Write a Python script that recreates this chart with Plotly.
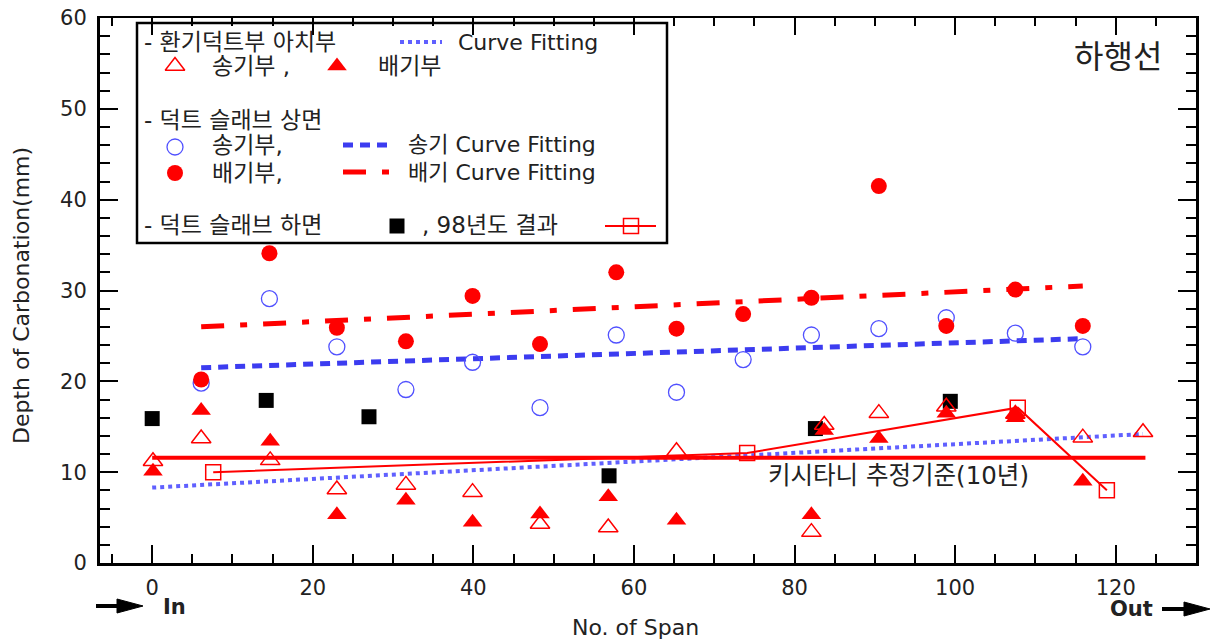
import plotly.graph_objects as go

# ---------------- data ----------------
top_span = [6.1, 14.6, 23.0, 31.6, 39.9, 48.3, 57.8, 65.3, 73.6, 82.1, 90.5, 98.9, 107.5, 115.9]
top_supply = [19.8, 29.1, 23.8, 19.1, 22.1, 17.1, 25.1, 18.8, 22.4, 25.1, 25.8, 27.0, 25.3, 23.8]
top_exhaust = [20.2, 34.1, 25.9, 24.4, 29.4, 24.1, 32.0, 25.8, 27.4, 29.2, 41.5, 26.1, 30.1, 26.1]

arch_sup_span = [0.1, 6.1, 14.7, 23.0, 31.6, 39.9, 48.3, 56.8, 65.3, 82.1, 83.7, 90.5, 98.9, 107.5, 115.9, 123.4]
arch_supply = [11.2, 13.7, 11.3, 8.1, 8.6, 7.8, 4.3, 3.9, 12.3, 3.4, 15.2, 16.5, 17.2, 16.4, 13.8, 14.4]
arch_exh_span = [0.1, 6.1, 14.7, 23.0, 31.6, 39.9, 48.3, 56.8, 65.3, 82.1, 83.7, 90.5, 98.9, 107.5, 107.5, 115.9]
arch_exhaust = [10.1, 16.8, 13.4, 5.3, 6.9, 4.5, 5.4, 7.3, 4.7, 5.3, 14.6, 13.7, 16.5, 16.4, 16.0, 9.0]

bottom_span = [0.0, 14.2, 27.0, 56.9, 82.6, 99.4]
bottom_depth = [15.9, 17.9, 16.1, 9.6, 14.8, 17.8]

y1998_span = [7.6, 74.1, 107.8, 118.9]
y1998_depth = [10.0, 12.1, 17.1, 8.0]

kitazaki_span = [0.0, 123.7]
kitazaki_depth = [11.6, 11.6]

arch_fit_span = [0.0, 123.4]
arch_fit_depth = [8.3, 14.2]
sup_fit_span = [6.1, 115.9]
sup_fit_depth = [21.5, 24.7]
exh_fit_span = [6.1, 115.9]
exh_fit_depth = [26.0, 30.5]

x_ticks = [0, 20, 40, 60, 80, 100, 120]
y_ticks = [0, 10, 20, 30, 40, 50, 60]

# ---------------- style ----------------
RED = "#ff0000"
BLUE_C = "#5050ff"
BLUE_D = "#3c3cf0"
BLUE_DOT = "#6060ff"
TXT = "#222222"
FONT = "DejaVu Sans, Noto Sans CJK KR"
TRI = 17

# plot area in pixels
L, R, T, B = 100, 1196, 18, 563
W, H = 1210, 644


def px(x, y):
    return (x - L) / (R - L), (B - y) / (B - T)


fig = go.Figure()

# curve fittings
fig.add_trace(go.Scatter(x=arch_fit_span, y=arch_fit_depth, mode="lines",
                         line=dict(color=BLUE_DOT, width=4, dash="4px,4px")))
fig.add_trace(go.Scatter(x=sup_fit_span, y=sup_fit_depth, mode="lines",
                         line=dict(color=BLUE_D, width=5, dash="10px,7px")))
fig.add_trace(go.Scatter(x=exh_fit_span, y=exh_fit_depth, mode="lines",
                         line=dict(color=RED, width=5, dash="23px,16px,7px,16px")))
# Kitazaki criterion
fig.add_trace(go.Scatter(x=kitazaki_span, y=kitazaki_depth, mode="lines",
                         line=dict(color=RED, width=4)))
# 1998 results
fig.add_trace(go.Scatter(x=y1998_span, y=y1998_depth, mode="lines+markers",
                         line=dict(color=RED, width=2),
                         marker=dict(symbol="square-open", size=15, color=RED, line=dict(width=1.5))))
# slab bottom
fig.add_trace(go.Scatter(x=bottom_span, y=bottom_depth, mode="markers",
                         marker=dict(symbol="square", size=15, color="black")))
# slab top
fig.add_trace(go.Scatter(x=top_span, y=top_supply, mode="markers",
                         marker=dict(symbol="circle-open", size=16, color=BLUE_C, line=dict(width=1.3))))
fig.add_trace(go.Scatter(x=top_span, y=top_exhaust, mode="markers",
                         marker=dict(symbol="circle", size=16, color=RED)))
# arch
fig.add_trace(go.Scatter(x=arch_sup_span, y=arch_supply, mode="markers",
                         marker=dict(symbol="triangle-up-open", size=TRI, color=RED, line=dict(width=1.5))))
fig.add_trace(go.Scatter(x=arch_exh_span, y=arch_exhaust, mode="markers",
                         marker=dict(symbol="triangle-up", size=TRI, color=RED)))

# dummy trace for top axis
fig.add_trace(go.Scatter(x=[None], y=[None], xaxis="x3", yaxis="y", mode="markers"))

# ---------------- legend (pixel coordinate overlay axes) ----------------
leg = dict(xaxis="x2", yaxis="y2", hoverinfo="skip")
fig.add_trace(go.Scatter(x=[400, 442], y=[42, 42], mode="lines",
                         line=dict(color=BLUE_DOT, width=4, dash="4px,4px"), **leg))
fig.add_trace(go.Scatter(x=[343, 392], y=[145, 145], mode="lines",
                         line=dict(color=BLUE_D, width=5, dash="10px,7px"), **leg))
fig.add_trace(go.Scatter(x=[343, 392], y=[172, 172], mode="lines",
                         line=dict(color=RED, width=5, dash="23px,16px,7px,16px"), **leg))
fig.add_trace(go.Scatter(x=[605, 656], y=[226, 226], mode="lines",
                         line=dict(color=RED, width=2), **leg))
fig.add_trace(go.Scatter(x=[631], y=[226], mode="markers",
                         marker=dict(symbol="square-open", size=15, color=RED, line=dict(width=1.5)), **leg))
fig.add_trace(go.Scatter(x=[175], y=[66], mode="markers",
                         marker=dict(symbol="triangle-up-open", size=TRI, color=RED, line=dict(width=1.5)), **leg))
fig.add_trace(go.Scatter(x=[337], y=[66], mode="markers",
                         marker=dict(symbol="triangle-up", size=TRI, color=RED), **leg))
fig.add_trace(go.Scatter(x=[175], y=[147], mode="markers",
                         marker=dict(symbol="circle-open", size=16, color=BLUE_C, line=dict(width=1.3)), **leg))
fig.add_trace(go.Scatter(x=[175], y=[173], mode="markers",
                         marker=dict(symbol="circle", size=16, color=RED), **leg))
fig.add_trace(go.Scatter(x=[397], y=[226], mode="markers",
                         marker=dict(symbol="square", size=15, color="black"), **leg))

annotations = []


def text(x, y, s, size=22, anchor="left", bold=False, angle=0):
    fx, fy = px(x, y)
    annotations.append(dict(x=fx, y=fy, xref="paper", yref="paper", text=("<b>%s</b>" % s) if bold else s,
                            showarrow=False, xanchor=anchor, yanchor="middle", textangle=angle,
                            font=dict(family=FONT, size=size, color=TXT)))


KS = 23
text(142, 42, "- 환기덕트부 아치부", KS)
text(456, 42, "Curve Fitting")
text(210, 66, "송기부 ,", KS)
text(376, 66, "배기부", KS)
text(142, 120, "- 덕트 슬래브 상면", KS)
text(210, 145, "송기부,", KS)
text(406, 145, "송기 Curve Fitting")
text(210, 173, "배기부,", KS)
text(406, 173, "배기 Curve Fitting")
text(142, 225, "- 덕트 슬래브 하면", KS)
text(420, 225, ", 98년도 결과", KS)
text(1164, 57, "하행선", size=32, anchor="right")
text(766, 476, "키시타니 추정기준(10년)", size=24.5)
text(635, 627, "No. of Span", size=22, anchor="center")
text(22, 296, "Depth of Carbonation(mm)", size=22, anchor="center", angle=-90)
text(161, 607, "In", size=21, bold=True)
text(1155, 609, "Out", size=21, anchor="right", bold=True)

shapes = []
# legend box
x0, y0 = px(137, 243)
x1, y1 = px(667, 23)
shapes.append(dict(type="rect", xref="paper", yref="paper", x0=x0, y0=y0, x1=x1, y1=y1,
                   line=dict(color="black", width=2.5), fillcolor="rgba(255,255,255,0)", layer="below"))


def arrow(xa, xb, y):
    a, yy = px(xa, y)
    m, _ = px(xb - 26, y)
    b, _ = px(xb, y)
    _, yt = px(0, y - 7)
    _, yb = px(0, y + 7)
    shapes.append(dict(type="line", xref="paper", yref="paper", x0=a, x1=m, y0=yy, y1=yy,
                       line=dict(color="black", width=4)))
    shapes.append(dict(type="path", xref="paper", yref="paper",
                       path="M %f %f L %f %f L %f %f Z" % (m, yt, b, yy, m, yb),
                       fillcolor="black", line=dict(color="black", width=1)))


arrow(96, 143, 606)
arrow(1162, 1210, 609)

tickfont = dict(family=FONT, size=21, color=TXT)
fig.update_layout(
    width=W, height=H,
    margin=dict(l=L, r=W - R, t=T, b=H - B, autoexpand=False),
    paper_bgcolor="white", plot_bgcolor="white",
    showlegend=False,
    xaxis=dict(range=[-6.5, 130], tickvals=x_ticks, showgrid=False, zeroline=False,
               showline=True, linewidth=3, linecolor="black", mirror=False,
               ticks="inside", ticklen=18, tickwidth=2, tickcolor="black",
               minor=dict(dtick=5, tick0=0, ticks="inside", ticklen=9, tickwidth=2, tickcolor="black"),
               tickfont=tickfont, ticklabelstandoff=4, automargin=False),
    xaxis3=dict(range=[-6.5, 130], matches="x", overlaying="x", side="top", anchor="y",
                tickvals=x_ticks, showticklabels=False, showgrid=False, zeroline=False,
                showline=True, linewidth=1.5, linecolor="black",
                ticks="inside", ticklen=17, tickwidth=2, tickcolor="black",
                minor=dict(dtick=5, tick0=0, ticks="inside", ticklen=8, tickwidth=2, tickcolor="black")),
    yaxis=dict(range=[0, 60], tickvals=y_ticks, showgrid=False, zeroline=False,
               showline=True, linewidth=3, linecolor="black", mirror="ticks",
               ticks="inside", ticklen=18, tickwidth=2, tickcolor="black",
               minor=dict(dtick=2, tick0=0, ticks="inside", ticklen=10, tickwidth=2, tickcolor="black"),
               tickfont=tickfont, ticklabelstandoff=6, automargin=False),
    xaxis2=dict(range=[L, R], overlaying="x", visible=False, anchor="y2"),
    yaxis2=dict(range=[B, T], overlaying="y", visible=False, anchor="x2"),
    annotations=annotations,
    shapes=shapes,
)

fig.write_html("out.html", config={"displayModeBar": False},
               post_script="document.body.style.margin='0';document.body.style.overflow='hidden';")
